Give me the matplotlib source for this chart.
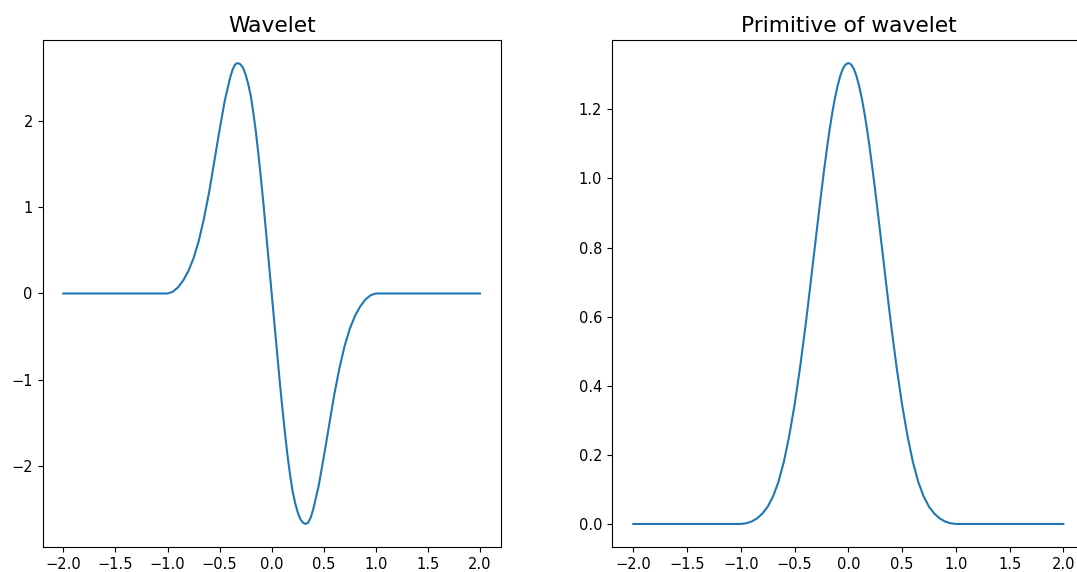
import matplotlib
matplotlib.use('Agg')
import matplotlib.pyplot as plt

# sample positions (x) and values
x = [-2.0, -1.0, -0.95, -0.9, -0.85, -0.8, -0.75, -0.7, -0.65, -0.6, -0.55,
     -0.5, -0.45, -0.4, -0.375, -0.35, -0.325, -0.3, -0.275, -0.25, -0.225,
     -0.2, -0.175, -0.15, -0.125, -0.1, -0.075, -0.05, -0.025,
     0.0, 0.025, 0.05, 0.075, 0.1, 0.125, 0.15, 0.175, 0.2,
     0.225, 0.25, 0.275, 0.3, 0.325, 0.35, 0.375, 0.4,
     0.45, 0.5, 0.55, 0.6, 0.65, 0.7, 0.75, 0.8, 0.85, 0.9, 0.95, 1.0, 2.0]

wavelet = [0.0, 0.0, 0.02, 0.07, 0.15, 0.26, 0.41, 0.61, 0.87, 1.18, 1.54,
           1.90, 2.24, 2.50, 2.60, 2.66, 2.675, 2.66, 2.62, 2.54, 2.43,
           2.29, 2.09, 1.86, 1.59, 1.30, 0.99, 0.66, 0.33,
           0.0, -0.33, -0.66, -0.99, -1.30, -1.59, -1.86, -2.09, -2.29,
           -2.43, -2.54, -2.62, -2.66, -2.675, -2.66, -2.60, -2.50,
           -2.24, -1.90, -1.54, -1.18, -0.87, -0.61, -0.41, -0.26, -0.15, -0.07, -0.02, 0.0, 0.0]

primitive = [0.0, 0.0, 0.002, 0.007, 0.016, 0.030, 0.050, 0.080, 0.122, 0.180, 0.255,
             0.345, 0.451, 0.570, 0.634, 0.700, 0.767, 0.833, 0.899, 0.964, 1.026,
             1.085, 1.140, 1.189, 1.232, 1.268, 1.297, 1.318, 1.330,
             1.334, 1.330, 1.318, 1.297, 1.268, 1.232, 1.189, 1.140, 1.085,
             1.026, 0.964, 0.899, 0.833, 0.767, 0.700, 0.634, 0.570,
             0.451, 0.345, 0.255, 0.180, 0.122, 0.080, 0.050, 0.030, 0.016, 0.007, 0.002, 0.0, 0.0]

xticks = [-2.0, -1.5, -1.0, -0.5, 0.0, 0.5, 1.0, 1.5, 2.0]

fig = plt.figure(figsize=(10.77, 5.72), dpi=100)

# left panel: the wavelet
ax1 = fig.add_axes([0.0395, 0.0437, 0.4255, 0.8864])
ax1.plot(x, wavelet, color="tab:blue", lw=1.5)
ax1.set_title("Wavelet", fontsize=15.7)
ax1.set_xticks(xticks)
ax1.set_yticks([-2, -1, 0, 1, 2])
ax1.tick_params(labelsize=10.5)

# right panel: its primitive (cut off at the right edge like the reference)
ax2 = fig.add_axes([0.5681, 0.0437, 0.4392, 0.8864])
ax2.plot(x, primitive, color="tab:blue", lw=1.5)
ax2.set_title("Primitive of wavelet", fontsize=15.7)
ax2.set_xticks(xticks)
ax2.set_yticks([0.0, 0.2, 0.4, 0.6, 0.8, 1.0, 1.2])
ax2.tick_params(labelsize=10.5)

fig.savefig("out.png", dpi=100)
plt.close(fig)
